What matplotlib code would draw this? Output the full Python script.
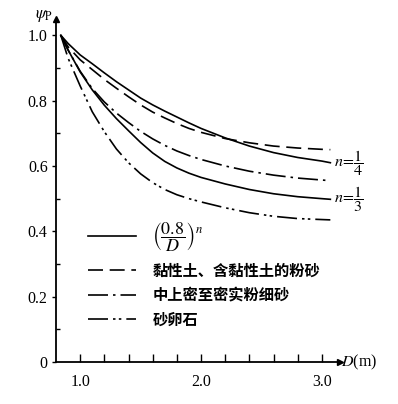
import matplotlib
matplotlib.use("Agg")
import matplotlib.pyplot as plt
from matplotlib.lines import Line2D
from matplotlib.ticker import FixedLocator

plt.rcParams['mathtext.fontset'] = 'stix'

# Data
D = [0.84, 0.9, 1.0, 1.1, 1.2, 1.3, 1.4, 1.5, 1.6, 1.7, 1.8, 1.9, 2.0,
     2.2, 2.4, 2.6, 2.8, 3.0, 3.07]
psi_n14 = [1.0, 0.975, 0.94, 0.913, 0.885, 0.858, 0.833, 0.808, 0.787, 0.768, 0.75, 0.732, 0.715,
           0.686, 0.661, 0.641, 0.626, 0.615, 0.61]
psi_clay = [1.0, 0.965, 0.925, 0.895, 0.865, 0.838, 0.812, 0.787, 0.765, 0.747, 0.73, 0.715, 0.703,
            0.684, 0.671, 0.661, 0.655, 0.651, 0.65]
psi_sand = [1.0, 0.955, 0.89, 0.837, 0.796, 0.762, 0.733, 0.706, 0.683, 0.663, 0.646, 0.632, 0.62,
            0.6, 0.584, 0.572, 0.563, 0.557, 0.555]
psi_n13 = [1.0, 0.955, 0.888, 0.833, 0.786, 0.745, 0.708, 0.672, 0.64, 0.614, 0.594, 0.578, 0.565,
           0.545, 0.528, 0.515, 0.506, 0.5, 0.498]
psi_gravel = [1.0, 0.93, 0.845, 0.766, 0.705, 0.652, 0.61, 0.576, 0.549, 0.528, 0.512, 0.5, 0.49,
              0.472, 0.457, 0.446, 0.439, 0.436, 0.435]

legend_labels = [r'$\left(\dfrac{0.8}{D}\right)^{n}$', '黏性土、含黏性土的粉砂', '中上密至密实粉细砂', '砂卵石']
yticks = [0, 0.2, 0.4, 0.6, 0.8, 1.0]
ytick_labels = ['0', '0.2', '0.4', '0.6', '0.8', '1.0']
xticks = [1.0, 2.0, 3.0]
xtick_labels = ['1.0', '2.0', '3.0']

fig = plt.figure(figsize=(3.98, 4.04), dpi=100)
ax = fig.add_axes([0.1407, 0.104, 0.7136, 0.849])

lw = 1.2
ls_solid = '-'
ls_dash = (0, (9, 4))
ls_dashdot = (0, (12, 3, 1.5, 3))
ls_dashdotdot = (0, (12, 3, 1.5, 2, 1.5, 3))

ax.plot(D, psi_n14, color='black', lw=lw, ls=ls_solid)
ax.plot(D, psi_clay, color='black', lw=lw, ls=ls_dash)
ax.plot(D, psi_sand, color='black', lw=lw, ls=ls_dashdot)
ax.plot(D, psi_n13, color='black', lw=lw, ls=ls_solid)
ax.plot(D, psi_gravel, color='black', lw=lw, ls=ls_dashdotdot)

ax.set_xlim(0.8, 3.15)
ax.set_ylim(0, 1.05)

for s in ['top', 'right']:
    ax.spines[s].set_visible(False)
for s in ['left', 'bottom']:
    ax.spines[s].set_linewidth(1.3)

# axis arrows
ax.plot([1], [0], marker='>', color='black', markersize=5, transform=ax.transAxes, clip_on=False)
ax.plot([0], [1], marker='^', color='black', markersize=5, transform=ax.transAxes, clip_on=False)

ax.set_yticks(yticks)
ax.set_yticklabels(ytick_labels, fontfamily='Liberation Serif', fontsize=11.5)
ax.yaxis.set_minor_locator(FixedLocator([0.1, 0.3, 0.5, 0.7, 0.9]))
ax.tick_params(axis='y', which='major', direction='out', length=3, width=1, pad=3)
ax.tick_params(axis='y', which='minor', direction='in', length=3, width=1)

ax.set_xticks(xticks)
ax.set_xticklabels(xtick_labels, fontfamily='Liberation Serif', fontsize=11.5)
ax.xaxis.set_minor_locator(FixedLocator([1.2, 1.4, 1.6, 1.8, 2.2, 2.4, 2.6, 2.8]))
ax.tick_params(axis='x', which='both', direction='in', length=6, width=1, pad=9)

ax.text(1.005, 0.0, r'$D$(m)', transform=ax.transAxes, ha='left', va='center',
        fontfamily='Liberation Serif', fontsize=11.5)
ax.text(-0.01, 1.012, r'$\psi_{\mathrm{P}}$', transform=ax.transAxes, ha='right', va='center',
        fontsize=12)

ax.text(D[-1] + 0.03, psi_n14[-1], r'$n\!=\!\dfrac{1}{4}$', ha='left', va='center', fontsize=11.5)
ax.text(D[-1] + 0.03, psi_n13[-1], r'$n\!=\!\dfrac{1}{3}$', ha='left', va='center', fontsize=11.5)

handles = [Line2D([], [], color='black', lw=lw, ls=ls_solid),
           Line2D([], [], color='black', lw=lw, ls=ls_dash),
           Line2D([], [], color='black', lw=lw, ls=ls_dashdot),
           Line2D([], [], color='black', lw=lw, ls=ls_dashdotdot)]
leg = ax.legend(handles, legend_labels, loc='upper left', bbox_to_anchor=(0.065, 0.452),
                frameon=False, handlelength=3.1, handletextpad=1.1, labelspacing=0.55,
                prop={'family': ['Noto Sans CJK SC', 'DejaVu Sans'], 'size': 11, 'weight': 'bold'})
leg.get_texts()[0].set_fontsize(13)

fig.savefig('out.png', dpi=100)
